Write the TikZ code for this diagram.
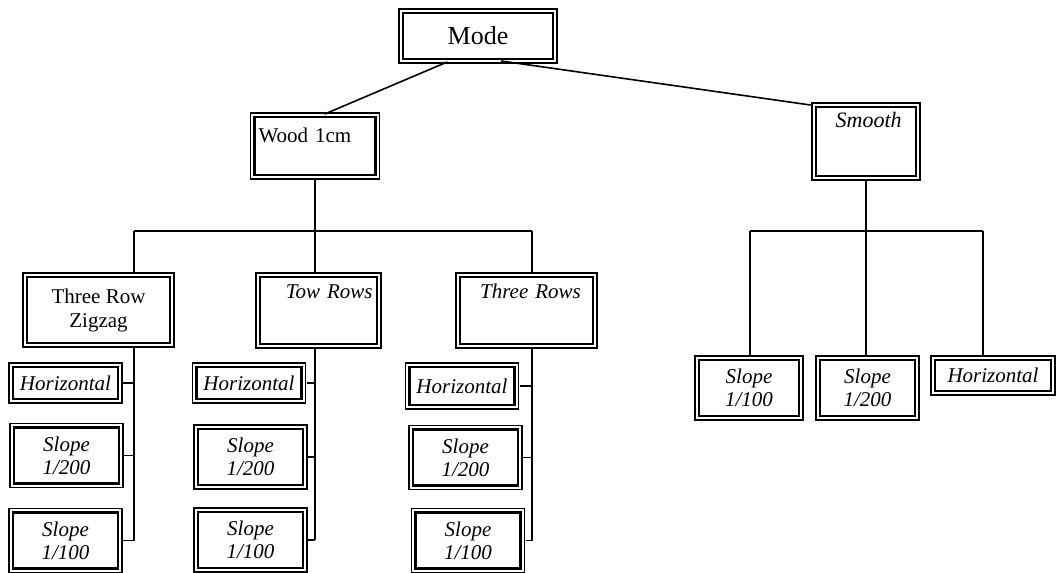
\documentclass[tikz,border=0pt]{standalone}
\usepackage{fontspec}
\setmainfont{Liberation Serif}

\tikzset{
  box/.style={draw, fill=white, line width=2.1pt, inner sep=3pt,
    preaction={draw, double, line width=0.9pt, double distance=5.1pt},
    font=\fontsize{15.75}{18}\selectfont},
  leaf/.style={box, font=\fontsize{15.75}{17}\selectfont\itshape, align=center,
    minimum width=78.75pt},
  link/.style={line width=1.2pt},
  gapstart/.style={shorten <=3pt},
  gapend/.style={shorten >=3pt},
}

\begin{document}
\begin{tikzpicture}[x=0.75pt, y=-0.75pt]
    \useasboundingbox (0,0) rectangle (1056,573);
    % Top of the tree
    \node[box, minimum width=112.5pt, minimum height=34.5pt,
          font=\fontsize{19.5}{22}\selectfont] (mode) at (478,36) {Mode};
    \node[box, text width=84.75pt, align=left, text height=16.5pt,
          text depth=21pt] (wood) at (315,146) {Wood 1cm};
    \node[box, font=\fontsize{16.5}{18}\selectfont\itshape, text width=69pt,
          align=center, text height=12.75pt, text depth=33pt] (smooth) at (866,141.5) {\hspace*{4pt}Smooth};
    % Second row under Wood 1cm
    \node[box, minimum width=107.25pt, minimum height=49.5pt, align=center]
          (zigzag) at (98.5,310) {Three Row\\Zigzag};
    \node[box, font=\fontsize{15.75}{18}\selectfont\itshape, text width=81.75pt,
          align=center, text height=13.5pt, text depth=30.75pt] (tow) at (318.5,310.5) {\hspace*{16pt}Tow Rows};
    \node[box, font=\fontsize{15.75}{18}\selectfont\itshape, text width=93.75pt,
          align=center, text height=13.5pt, text depth=30.75pt] (three) at (526.5,310.5) {\hspace*{6pt}Three Rows};
    % Leaves, left column
    \node[leaf, minimum height=24pt] (h1) at (65.5,383) {Horizontal};
    \node[leaf, minimum height=42pt] (s1a) at (66.5,455.5) {Slope\\1/200};
    \node[leaf, minimum height=42pt] (s1b) at (65.5,540.5) {Slope\\1/100};
    % Leaves, middle column
    \node[leaf, minimum height=24pt] (h2) at (249,383) {Horizontal};
    \node[leaf, minimum height=42pt] (s2a) at (250.5,457) {Slope\\1/200};
    \node[leaf, minimum height=42pt] (s2b) at (250.5,540) {Slope\\1/100};
    % Leaves, right column
    \node[leaf, minimum height=28.5pt] (h3) at (462,386) {Horizontal};
    \node[leaf, minimum height=42pt] (s3a) at (465.5,457.5) {Slope\\1/200};
    \node[leaf, minimum height=42pt] (s3b) at (468,540.5) {Slope\\1/100};
    % Leaves under Smooth
    \node[leaf, minimum width=75pt, minimum height=42pt] (sA) at (749,388) {Slope\\1/100};
    \node[leaf, minimum width=71.25pt, minimum height=42pt] (sB) at (867.5,388) {Slope\\1/200};
    \node[leaf, minimum width=87pt, minimum height=23.25pt] (hC) at (993,375.5) {Horizontal};
    % Bus junctions
    \coordinate (wbl) at (134,231);
    \coordinate (wbm) at (315,231);
    \coordinate (wbr) at (532,231);
    \coordinate (sbl) at (750,231);
    \coordinate (sbm) at (866,231);
    \coordinate (sbr) at (983,231);
    % Lines from Mode
    \draw[link, gapstart, gapend] ([xshift=-20.25pt]mode.south) -- ([xshift=4.5pt]wood.north);
    \draw[link, gapstart, gapend] ([xshift=14.25pt]mode.south) -- (smooth.north west);
    % Wood 1cm branch
    \draw[link, gapstart] (wood.south) -- (wbm);
    \draw[link] (wbl) -- (wbr);
    \foreach \c/\nd in {wbl/zigzag, wbm/tow, wbr/three}
        \draw[link, gapend] (\c) -- (\c |- \nd.north);
    \foreach \c/\top/\last in {wbl/zigzag/s1b, wbm/tow/s2b, wbr/three/s3b}
        \draw[link, gapstart] (\top.south -| \c) -- (\c |- \last.east);
    \foreach \c/\nd in {wbl/h1, wbl/s1a, wbl/s1b, wbm/h2, wbm/s2a, wbm/s2b,
                        wbr/h3, wbr/s3a, wbr/s3b}
        \draw[link, gapstart] (\nd.east) -- (\nd.east -| \c);
    % Smooth branch
    \draw[link, gapstart] (smooth.south) -- (sbm);
    \draw[link] (sbl) -- (sbr);
    \foreach \c/\nd in {sbl/sA, sbm/sB, sbr/hC}
        \draw[link, gapend] (\c) -- (\c |- \nd.north);
\end{tikzpicture}
\end{document}
